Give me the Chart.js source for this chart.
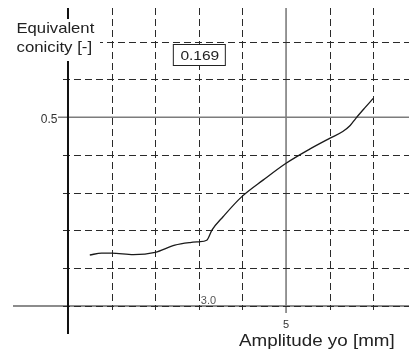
<!DOCTYPE html>
<html>
<head>
<meta charset="utf-8">
<script src="https://cdn.jsdelivr.net/npm/chart.js@4.4.1/dist/chart.umd.min.js"></script>
<style>
  html, body { margin: 0; padding: 0; background: #fff; }
  #wrap { width: 409px; height: 350px; }
</style>
</head>
<body>
<div id="wrap"><canvas id="c"></canvas></div>
<script>
// === DATA ===
const amplitude = [0.5, 0.77, 1.0, 1.5, 2.0, 2.45, 2.8, 3.0, 3.18, 3.3, 3.56, 3.98, 4.48, 5.0, 5.55, 6.0, 6.3, 6.47, 6.6, 6.8, 7.0];
const conicity  = [0.135, 0.140, 0.140, 0.136, 0.142, 0.161, 0.168, 0.170, 0.174, 0.201, 0.237, 0.289, 0.334, 0.378, 0.416, 0.444, 0.462, 0.478, 0.497, 0.524, 0.55];

const gridX = [1, 2, 3, 4, 6, 7];              // dashed verticals
const gridY = [0, 0.1, 0.2, 0.3, 0.4, 0.6, 0.7]; // dashed horizontals
const refX = [5];     // solid grey vertical
const refY = [0.5];   // solid grey horizontal

const xTickValues = [5];
const xTickLabels = ['5'];
const yTickValues = [0.5];
const yTickLabels = ['0.5'];

const markerX = 3.0;
const markerXLabel = '3.0';
const markerValue = '0.169';

const FONT = '"Liberation Sans", Arial, sans-serif';

function seg(ctx, x1, y1, x2, y2) {
  ctx.beginPath();
  ctx.moveTo(x1, y1);
  ctx.lineTo(x2, y2);
  ctx.stroke();
}

// canvas text, optionally stretched sideways (sx) like the original lettering
function wideText(ctx, txt, x, y, size, align, color, sx) {
  sx = sx || 1;
  ctx.save();
  ctx.font = size + 'px ' + FONT;
  ctx.fillStyle = color || '#222';
  ctx.textBaseline = 'alphabetic';
  let w = ctx.measureText(txt).width * sx;
  let left = x;
  if (align === 'right') left = x - w;
  if (align === 'center') left = x - w / 2;
  ctx.translate(left, y);
  ctx.scale(sx, 1);
  ctx.textAlign = 'left';
  ctx.fillText(txt, 0, 0);
  ctx.restore();
}

// === GRID + AXES ===
const gridPlugin = {
  id: 'grid',
  beforeDatasetsDraw(chart) {
    const {ctx, chartArea: a, scales: {x, y}} = chart;
    const x0 = x.getPixelForValue(0);
    const y0 = y.getPixelForValue(0);
    ctx.save();

    // x axis (grey, thick)
    ctx.strokeStyle = '#8c8c8c';
    ctx.lineWidth = 2;
    seg(ctx, a.left, y0, a.right, y0);

    // solid reference lines
    ctx.strokeStyle = '#7c7c7c';
    ctx.lineWidth = 1.6;
    refX.forEach(v => {
      let px = x.getPixelForValue(v);
      seg(ctx, px, a.top, px, y0 + 7);
    });
    refY.forEach(v => {
      let py = y.getPixelForValue(v);
      seg(ctx, x0 - 10, py, a.right, py);
    });

    // dashed grid
    ctx.setLineDash([7, 4]);
    ctx.strokeStyle = '#2a2a2a';
    ctx.lineWidth = 1;
    gridX.forEach(v => {
      let px = Math.round(x.getPixelForValue(v)) + 0.5;
      seg(ctx, px, a.top, px, y0 + 4);
    });
    gridY.forEach(v => {
      let py = Math.round(y.getPixelForValue(v)) + 0.5;
      seg(ctx, x0 - 5, py, a.right, py);
    });
    ctx.setLineDash([]);

    // y axis (black, thick)
    ctx.strokeStyle = '#111';
    ctx.lineWidth = 2;
    seg(ctx, x0, a.top, x0, a.bottom);

    // tick labels
    yTickValues.forEach((v, i) => {
      wideText(ctx, yTickLabels[i], x0 - 10.5, y.getPixelForValue(v) + 5.5, 12, 'right', '#333');
    });
    xTickValues.forEach((v, i) => {
      wideText(ctx, xTickLabels[i], x.getPixelForValue(v), y0 + 22.5, 11, 'center', '#333');
    });
    wideText(ctx, markerXLabel, x.getPixelForValue(markerX) + 2, y0 - 2, 10, 'left', '#555', 1.1);
    ctx.restore();
  },
  afterDraw(chart) {
    const {ctx, scales: {x, y}} = chart;
    ctx.save();

    // y title on a white patch
    ctx.fillStyle = '#fff';
    ctx.fillRect(10, 19, 90, 42);
    wideText(ctx, 'Equivalent', 16.5, 32.7, 15, 'left', '#222', 1.11);
    wideText(ctx, 'conicity [-]', 16.5, 52, 15, 'left', '#222', 1.12);

    // x title
    wideText(ctx, 'Amplitude yo [mm]', 239, 345.5, 16.5, 'left', '#222', 1.14);

    // value box at the marker
    let mx = x.getPixelForValue(markerX);
    ctx.fillStyle = '#fff';
    ctx.fillRect(mx - 26, 44, 52, 21);
    ctx.strokeStyle = '#222';
    ctx.lineWidth = 1;
    ctx.strokeRect(mx - 26 + 0.5, 44.5, 52, 21);
    wideText(ctx, markerValue, mx + 1, 59.5, 13.5, 'center', '#222', 1.15);
    ctx.restore();
  }
};

new Chart(document.getElementById('c'), {
  type: 'scatter',
  data: {
    datasets: [{
      data: amplitude.map((a, i) => ({x: a, y: conicity[i]})),
      showLine: true,
      borderColor: '#1a1a1a',
      borderWidth: 1.3,
      pointRadius: 0,
      cubicInterpolationMode: 'monotone',
      fill: false
    }]
  },
  options: {
    responsive: true,
    maintainAspectRatio: false,
    animation: false,
    layout: { padding: { left: 13, right: 0, top: 8, bottom: 16 } },
    plugins: { legend: { display: false }, tooltip: { enabled: false } },
    scales: {
      x: { type: 'linear', display: false, min: -1.261, max: 7.819 },
      y: { type: 'linear', display: false, min: -0.0742, max: 0.7892 }
    }
  },
  plugins: [gridPlugin]
});
</script>
</body>
</html>
